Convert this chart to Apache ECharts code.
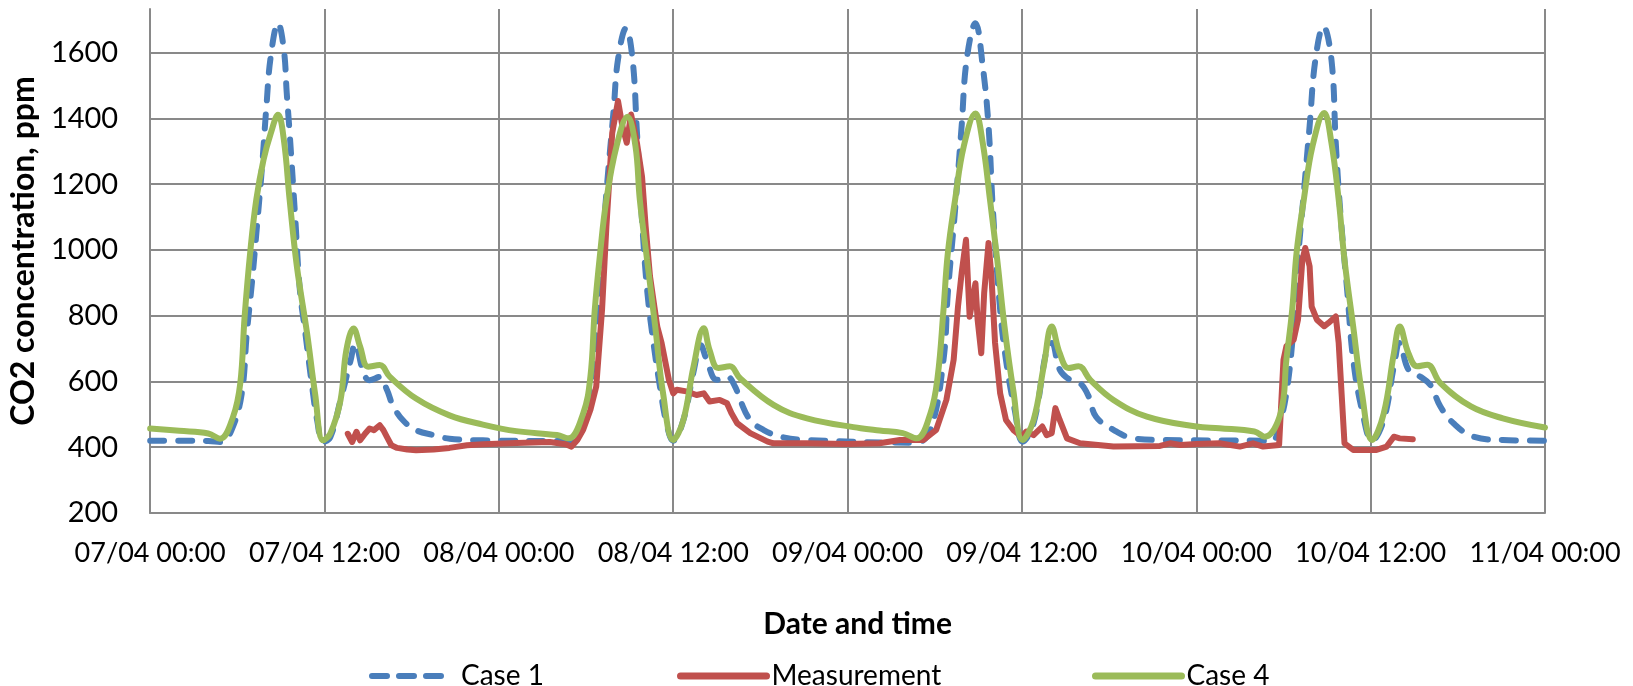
<!DOCTYPE html>
<html>
<head>
<meta charset="utf-8">
<title>CO2 concentration</title>
<script src="https://cdn.jsdelivr.net/npm/echarts@6/dist/echarts.min.js"></script>
<style>
html, body { margin: 0; padding: 0; background: #fff; }
#chart { width: 1633px; height: 686px; }
</style>
</head>
<body>
<div id="chart"></div>
<script>
// x values are hours since 07/04 00:00
var xTickLabels = ['07/04 00:00', '07/04 12:00', '08/04 00:00', '08/04 12:00', '09/04 00:00',
    '09/04 12:00', '10/04 00:00', '10/04 12:00', '11/04 00:00'];

var case1 = [
    [0, 420], [2, 420], [4, 419], [4.9, 416], [5.6, 452], [6.3, 563], [6.65, 746], [7.0, 899], [7.35, 1072],
    [7.7, 1254], [8.0, 1437], [8.3, 1589], [8.8, 1690], [9.2, 1609], [9.4, 1477], [9.6, 1355], [9.98, 1100],
    [10.3, 880], [10.7, 740], [11.1, 600], [11.5, 480], [11.9, 416], [12.4, 431], [13.1, 543], [13.8, 665],
    [14.1, 715], [14.7, 624], [15.1, 604], [15.8, 614], [16.3, 574], [16.7, 528], [17.4, 482], [18.3, 452],
    [19.5, 437], [20.6, 426], [22.9, 421], [28.7, 419],
    [29.2, 422], [29.8, 463], [30.5, 666], [30.97, 920], [31.4, 1174], [31.9, 1427], [32.2, 1580], [32.75, 1675],
    [33.2, 1580], [33.5, 1360], [33.85, 1090], [34.2, 880], [34.6, 730], [35.1, 580], [35.55, 470], [36.0, 420],
    [36.7, 483], [37.4, 630], [37.9, 710], [38.3, 666], [39.0, 605], [39.7, 615], [40.25, 585], [40.6, 544],
    [41.3, 483], [42.2, 453], [43.4, 432], [45.2, 422], [52.7, 414],
    [53.7, 453], [54.6, 666], [54.9, 869], [55.4, 1123], [55.85, 1377], [56.2, 1580], [56.8, 1690], [57.3, 1560],
    [57.7, 1377], [58.0, 1123], [58.5, 818], [58.9, 666], [59.5, 514], [60.05, 417], [60.8, 473], [61.7, 696],
    [62.05, 717], [62.6, 636], [63.3, 605], [64.0, 595], [64.6, 554], [65.1, 493], [66.3, 453], [67.7, 427],
    [69.8, 422], [76.5, 420],
    [77.2, 418], [77.8, 483], [78.2, 564], [78.6, 717], [78.9, 920], [79.4, 1174], [79.8, 1377], [80.2, 1580],
    [80.75, 1680], [81.3, 1580], [81.6, 1326], [81.9, 1123], [82.4, 869], [82.8, 666], [83.4, 514], [84.1, 420],
    [84.9, 483], [85.6, 646], [86.0, 717], [86.6, 636], [87.4, 615], [88.1, 590], [88.8, 524], [89.7, 473],
    [91.1, 432], [93.1, 422], [96, 420]
];

var measurement = [
    [13.6, 441], [13.9, 416], [14.2, 447], [14.45, 421], [14.8, 442], [15.1, 457], [15.4, 452], [15.8, 467],
    [16.05, 452], [16.3, 431], [16.6, 406], [17.0, 398], [17.7, 393], [18.3, 391], [19.5, 393], [20.6, 398],
    [21.8, 406], [22.9, 409], [25.2, 413], [27.5, 416], [28.6, 409], [29.0, 402],
    [29.4, 422], [29.8, 453], [30.3, 514], [30.7, 585], [31.1, 818], [31.4, 1072], [31.8, 1356], [32.2, 1453],
    [32.5, 1377], [32.8, 1326], [33.1, 1412], [33.5, 1326], [33.85, 1224], [34.1, 1072], [34.4, 920], [34.9, 767],
    [35.2, 717], [35.7, 605], [36.0, 564], [36.25, 575], [36.9, 570], [37.6, 559], [38.1, 564], [38.5, 539],
    [39.2, 544], [39.7, 534], [40.0, 504], [40.4, 473], [41.3, 443], [42.5, 417], [42.9, 412], [45.2, 412],
    [47.95, 410], [50.2, 412], [51.6, 422], [53.2, 422],
    [54.1, 453], [54.8, 544], [55.3, 666], [55.6, 828], [55.85, 930], [56.15, 1031], [56.4, 797], [56.8, 899],
    [56.95, 787], [57.2, 686], [57.4, 869], [57.7, 1021], [57.9, 920], [58.15, 717], [58.5, 564], [58.9, 483],
    [59.4, 453], [59.97, 432], [60.3, 448], [60.8, 437], [61.4, 463], [61.7, 437], [62.05, 443], [62.3, 519],
    [62.6, 483], [63.1, 427], [64.0, 412], [66.3, 402], [69.5, 404], [70.2, 412], [70.9, 407], [72.0, 410],
    [73.6, 412], [75.0, 402], [75.9, 412], [76.6, 402], [77.7, 407],
    [78.0, 666], [78.2, 707], [78.7, 727], [79.0, 788], [79.3, 970], [79.5, 1006], [79.8, 950], [79.94, 828],
    [80.3, 788], [80.8, 768], [81.1, 778], [81.6, 798], [81.8, 717], [82.0, 564], [82.2, 412], [82.8, 392],
    [83.5, 392], [84.4, 392], [85.1, 402], [85.6, 432], [86.0, 427], [86.9, 424]
];

var case4 = [
    [0, 457], [2, 450], [4.0, 442], [4.8, 426], [5.7, 492], [6.2, 594], [6.5, 797], [6.9, 1000], [7.3, 1152],
    [7.8, 1274], [8.3, 1355], [8.8, 1411], [9.2, 1335], [9.6, 1152], [10.1, 949], [10.8, 746], [11.35, 563],
    [11.9, 421], [12.4, 442], [13.1, 543], [13.5, 695], [14.0, 761], [14.45, 706], [15.0, 645], [15.8, 650],
    [16.5, 614], [18.3, 548], [20.6, 497], [22.9, 469], [25.2, 449], [28.0, 437], [28.8, 427],
    [29.8, 503], [30.3, 615], [30.6, 818], [30.97, 991], [31.4, 1153], [32.1, 1316], [32.85, 1405], [33.4, 1316],
    [33.7, 1153], [34.2, 970], [34.76, 767], [35.3, 564], [36.0, 422], [36.7, 483], [37.4, 646], [38.1, 762],
    [38.5, 696], [39.1, 641], [39.9, 646], [40.6, 610], [42.9, 529], [45.2, 488], [48.9, 458], [50.2, 451],
    [51.8, 443], [52.75, 427],
    [53.7, 503], [54.2, 615], [54.6, 818], [54.9, 991], [55.4, 1153], [56.0, 1316], [56.8, 1415], [57.3, 1326],
    [57.8, 1153], [58.3, 970], [58.8, 767], [59.4, 575], [60.05, 422], [60.8, 483], [61.5, 646], [62.05, 767],
    [62.6, 686], [63.2, 641], [63.9, 646], [64.7, 605], [66.3, 544], [68.6, 493], [72.0, 463], [73.6, 458],
    [76.0, 448], [76.7, 432],
    [77.8, 503], [78.2, 666], [78.6, 818], [78.9, 991], [79.4, 1153], [80.0, 1316], [80.8, 1417], [81.3, 1326],
    [81.8, 1153], [82.2, 970], [82.8, 767], [83.4, 564], [84.1, 422], [84.9, 503], [85.6, 686], [86.0, 767],
    [86.6, 686], [87.2, 646], [87.9, 651], [88.8, 595], [90.9, 524], [93.1, 488], [96, 460]
];

var font = 'Lato, "Liberation Sans", sans-serif';
var gridColor = '#898989';

var chart = echarts.init(document.getElementById('chart'));

var legendBase = {
    top: 657,
    itemHeight: 14,
    itemStyle: { opacity: 0 },
    textStyle: { fontFamily: font, fontSize: 28, color: '#000' }
};

var option = {
    backgroundColor: '#fff',
    animation: false,
    grid: { left: 150, right: 88, top: 9, bottom: 173 },
    legend: [
        Object.assign({}, legendBase, {
            data: ['Case 1'], left: 364, itemWidth: 70,
            lineStyle: { width: 6, type: [15, 12], cap: 'round' },
            textStyle: { fontFamily: font, fontSize: 28, color: '#000', padding: [0, 0, 0, 14] }
        }),
        Object.assign({}, legendBase, {
            data: ['Measurement'], left: 672, itemWidth: 86,
            lineStyle: { width: 7, cap: 'round' }
        }),
        Object.assign({}, legendBase, {
            data: ['Case 4'], left: 1087, itemWidth: 86,
            lineStyle: { width: 7, cap: 'round' }
        })
    ],
    xAxis: {
        type: 'value',
        min: 0,
        max: 96,
        interval: 12,
        name: 'Date and time',
        nameLocation: 'middle',
        nameGap: 96,
        nameTextStyle: { fontFamily: font, fontSize: 30, fontWeight: 'bold', color: '#000', padding: [0, 0, 0, 20] },
        axisLine: { lineStyle: { color: gridColor, width: 2 } },
        axisTick: { show: false },
        axisLabel: {
            margin: 27,
            fontFamily: font,
            fontSize: 27,
            color: '#000',
            formatter: function (v) { return xTickLabels[Math.round(v / 12)]; }
        },
        splitLine: { show: true, lineStyle: { color: gridColor, width: 2 } }
    },
    yAxis: {
        type: 'value',
        min: 200,
        max: 1733,
        interval: 200,
        name: 'CO2 concentration, ppm',
        nameLocation: 'middle',
        nameGap: 108,
        nameTextStyle: { fontFamily: font, fontSize: 32, fontWeight: 'bold', color: '#000', padding: [0, 0, 0, 20] },
        axisLine: { show: true, lineStyle: { color: gridColor, width: 2 } },
        axisTick: { show: false },
        axisLabel: {
            margin: 32, fontFamily: font, fontSize: 29, color: '#000', showMaxLabel: false,
            formatter: function (v) { return String(v); }
        },
        splitLine: { show: true, showMaxLine: false, lineStyle: { color: gridColor, width: 2 } }
    },
    series: [
        {
            name: 'Case 1',
            type: 'line',
            data: case1,
            symbol: 'none',
            smooth: 0.4,
            color: '#4a7ebb',
            lineStyle: { width: 6, type: [14, 14], cap: 'round', color: '#4a7ebb' }
        },
        {
            name: 'Measurement',
            type: 'line',
            data: measurement,
            symbol: 'none',
            color: '#c0504d',
            lineStyle: { width: 6, color: '#c0504d', join: 'round', cap: 'round' }
        },
        {
            name: 'Case 4',
            type: 'line',
            data: case4,
            symbol: 'none',
            smooth: 0.4,
            color: '#9bbb59',
            lineStyle: { width: 6, color: '#9bbb59', cap: 'round' }
        }
    ]
};

chart.setOption(option);
</script>
</body>
</html>
